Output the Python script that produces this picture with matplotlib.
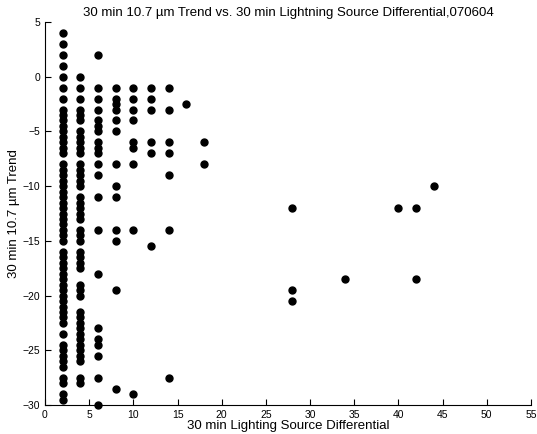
import matplotlib
matplotlib.use('Agg')
import matplotlib.pyplot as plt

plt.rcParams['font.family'] = ['Liberation Sans', 'DejaVu Sans']

# trend values (y) grouped by lightning source differential (x)
col_x = [2, 4, 6, 8, 10, 12, 14, 16, 18, 28, 34, 40, 42, 44]
col_y = [
    [4, 3, 2, 1, 0, -1, -2, -3, -3.5, -4, -4.5, -5, -5.5, -6, -6.5, -7,
     -8, -8.5, -9, -9.5, -10, -10.5, -11, -11.5, -12, -12.5, -13, -13.5,
     -14, -14.5, -15, -16, -16.5, -17, -17.5, -18, -18.5, -19, -19.5, -20,
     -20.5, -21, -21.5, -22, -22.5, -23.5, -24.5, -25, -25.5, -26, -26.5,
     -27.5, -28, -29, -29.5],
    [0, -1, -2, -3, -3.5, -4, -5, -5.5, -6, -6.5, -7, -8, -8.5, -9, -9.5,
     -10, -11, -11.5, -12, -12.5, -13, -14, -14.5, -15, -16, -16.5, -17,
     -17.5, -19, -19.5, -20, -21.5, -22, -22.5, -23, -23.5, -24, -24.5,
     -25, -25.5, -26, -27.5, -28],
    [2, -1, -2, -3, -4, -4.5, -5, -6, -6.5, -7, -8, -9, -11, -14, -18, -23,
     -24, -24.5, -25.5, -27.5, -30],
    [-1, -2, -2.5, -3, -4, -5, -8, -10, -11, -14, -15, -19.5, -28.5],
    [-1, -2, -3, -4, -6, -6.5, -8, -14, -29],
    [-1, -2, -3, -6, -7, -15.5],
    [-1, -3, -6, -7, -9, -14, -27.5],
    [-2.5],
    [-6, -8],
    [-12, -19.5, -20.5],
    [-18.5],
    [-12],
    [-12, -18.5],
    [-10],
]

xs = []
ys = []
for x, yl in zip(col_x, col_y):
    for y in yl:
        xs.append(x)
        ys.append(y)

fig = plt.figure(figsize=(5.37, 4.34), dpi=100)
ax = fig.add_axes([45/537., 1-405/434., 486/537., 383/434.])
ax.plot(xs, ys, 'ko', markersize=5, clip_on=False)
ax.set_xlim(0, 55)
ax.set_ylim(-30, 5)
ax.set_xticks(range(0, 56, 5))
ax.set_yticks(range(-30, 6, 5))
ax.spines['top'].set_visible(False)
ax.spines['right'].set_visible(False)
ax.tick_params(direction='in', labelsize=7.5, length=4)
ax.set_title(u'30 min 10.7 \u00b5m Trend vs. 30 min Lightning Source Differential,070604',
             fontsize=9.5, pad=4)
ax.set_xlabel('30 min Lighting Source Differential', fontsize=9.5, labelpad=0)
ax.set_ylabel(u'30 min 10.7 \u00b5m Trend', fontsize=9.5, labelpad=2)
fig.savefig('out.png', dpi=100, facecolor='w')
